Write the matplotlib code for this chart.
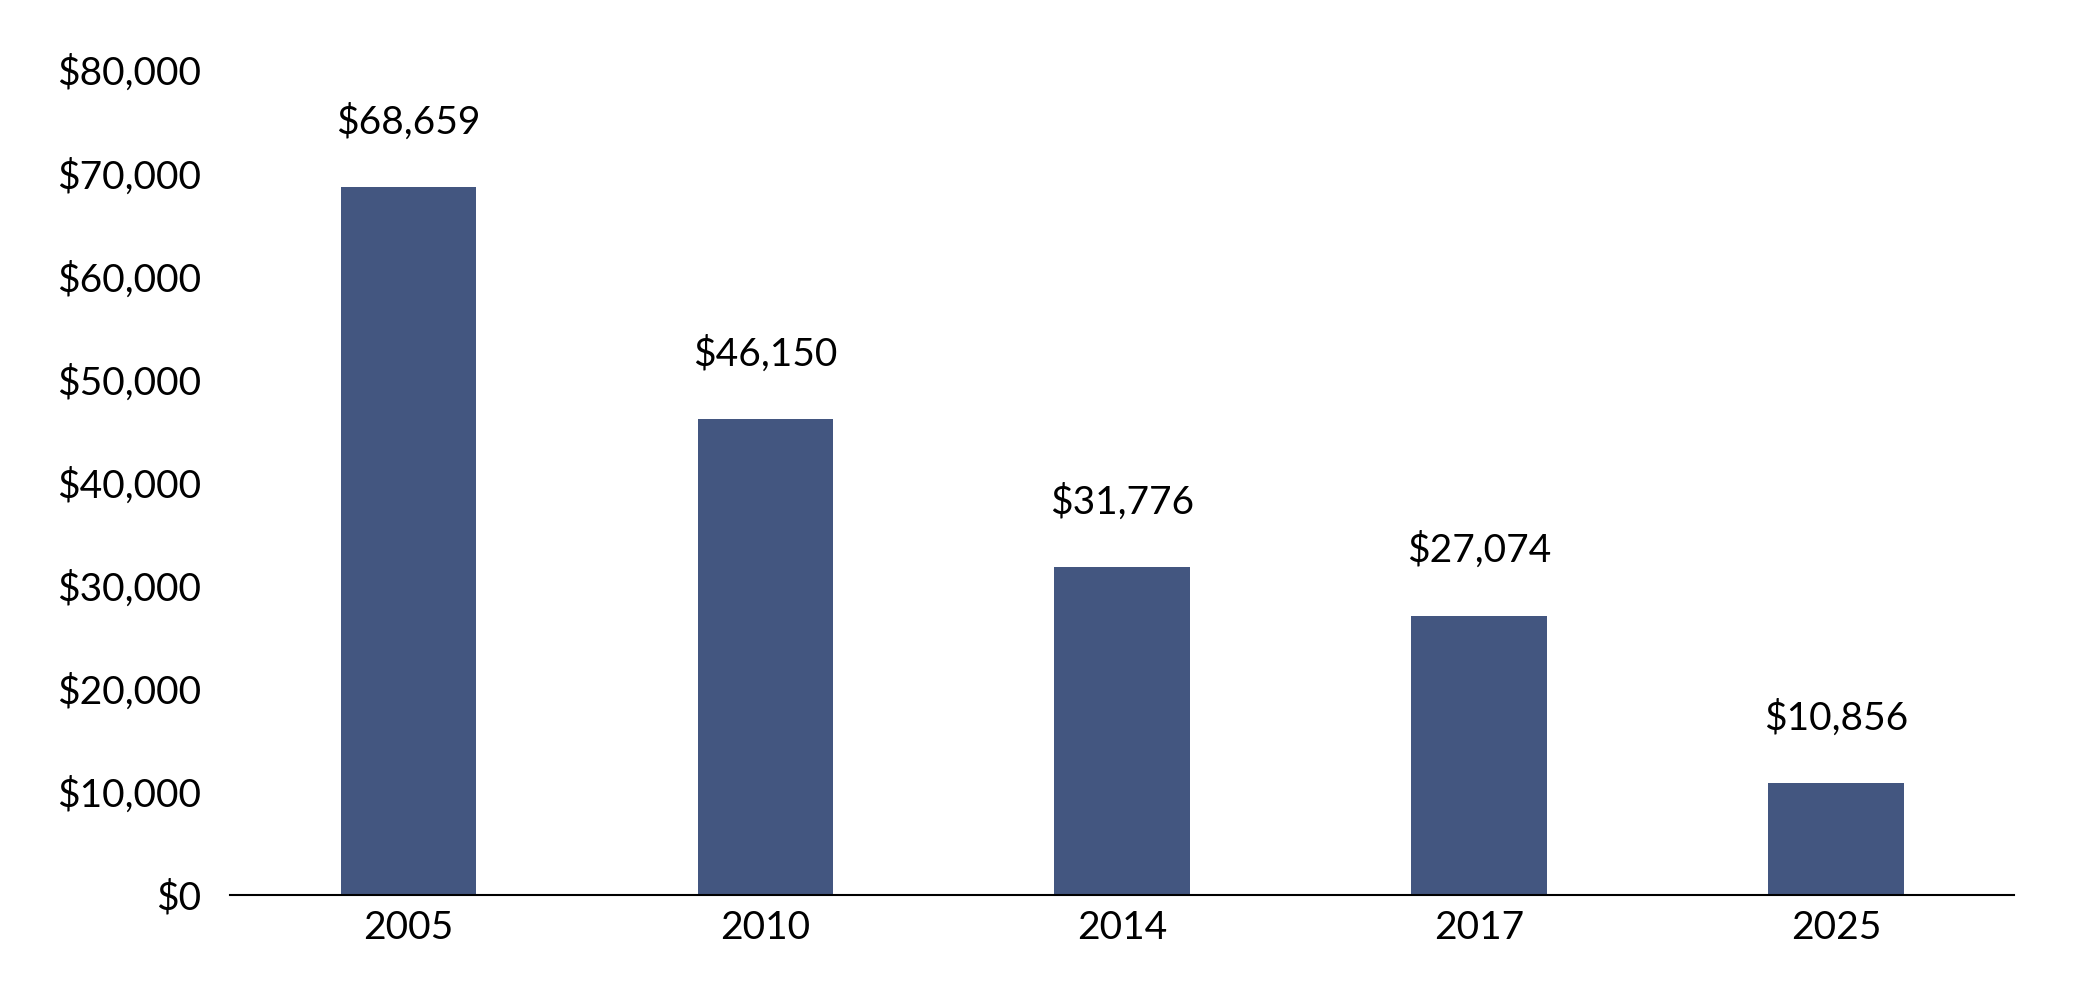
import matplotlib
matplotlib.use("Agg")
import matplotlib.pyplot as plt
from matplotlib.ticker import FuncFormatter

years = ["2005", "2010", "2014", "2017", "2025"]
values = [68659, 46150, 31776, 27074, 10856]
value_labels = ["$68,659", "$46,150", "$31,776", "$27,074", "$10,856"]
yticks = [0, 10000, 20000, 30000, 40000, 50000, 60000, 70000, 80000]

plt.rcParams['font.family'] = ['Lato', 'DejaVu Sans']
FS = 28

fig = plt.figure(figsize=(20.74, 9.90), dpi=100)
ax = fig.add_axes([0.1109, 0.0960, 0.8604, 0.8333])

x = list(range(len(years)))
ax.bar(x, values, width=0.38, color="#435680", zorder=2)

for xi, v, lab in zip(x, values, value_labels):
    ax.annotate(lab, xy=(xi, v), xytext=(0, 47), textcoords="offset points",
                ha="center", va="center", fontsize=FS, fontweight="normal", color="#000000")

ax.set_xlim(-0.5, 4.5)
ax.set_ylim(0, 80000)
ax.set_yticks(yticks)
ax.yaxis.set_major_formatter(FuncFormatter(lambda v, p: "${:,.0f}".format(v)))
ax.set_xticks(x)
ax.set_xticklabels(years)

for s in ["top", "right", "left"]:
    ax.spines[s].set_visible(False)
ax.spines["bottom"].set_linewidth(1.5)
ax.spines["bottom"].set_color("#000000")

ax.tick_params(axis="y", length=0, pad=21, labelsize=FS, labelcolor="#000000")
ax.tick_params(axis="x", length=0, pad=11, labelsize=FS, labelcolor="#000000")
for t in ax.get_xticklabels() + ax.get_yticklabels():
    t.set_fontweight("normal")

fig.savefig("out.png", dpi=100)
